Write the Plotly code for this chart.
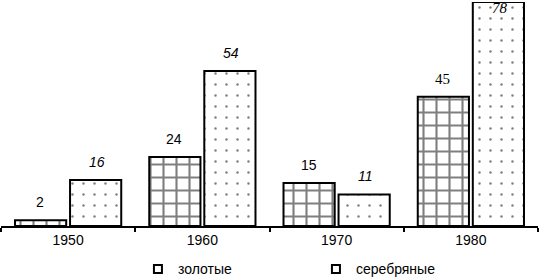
import plotly.graph_objects as go

years = ["1950", "1960", "1970", "1980"]
gold = [2, 24, 15, 45]
silver = [16, 54, 11, 78]
series_names = ["золотые", "серебряные"]

fig = go.Figure()
fig.add_trace(go.Bar(
    x=years, y=gold, name=series_names[0], showlegend=False,
    marker=dict(color="white", line=dict(color="black", width=2),
                pattern=dict(shape="+", fgcolor="black", bgcolor="white", size=13, solidity=0.3)),
))
fig.add_trace(go.Bar(
    x=years, y=silver, name=series_names[1], showlegend=False,
    marker=dict(color="white", line=dict(color="black", width=2),
                pattern=dict(shape=".", fgcolor="black", bgcolor="white", size=11, solidity=0.04)),
))
# legend entries (hollow squares as in the reference)
for nm in series_names:
    fig.add_trace(go.Scatter(
        x=[None], y=[None], mode="markers", name=nm,
        marker=dict(symbol="square", size=8, color="white", line=dict(color="black", width=2)),
    ))

# value labels (x given as category index)
for i, yr in enumerate(years):
    last = (i == len(years) - 1)
    fam = "Liberation Serif" if last else "Liberation Sans"
    fsz = 15 if last else 14
    fig.add_annotation(x=i, y=gold[i], xref="x", yref="y", text=str(gold[i]), showarrow=False,
                       xshift=-28, yshift=18, font=dict(family=fam, size=fsz, color="black"))
    fig.add_annotation(x=i, y=silver[i], xref="x", yref="y", text="<i>%d</i>" % silver[i],
                       showarrow=False, xshift=29, yshift=(-6 if last else 18),
                       font=dict(family=fam, size=fsz, color="black"))

fig.update_layout(
    width=540, height=279,
    margin=dict(l=1, r=2, t=2, b=53, autoexpand=False),
    paper_bgcolor="white", plot_bgcolor="white",
    barmode="group", bargap=0.18, bargroupgap=0.07,
    font=dict(family="Liberation Sans", size=14, color="black"),
    showlegend=True,
    legend=dict(orientation="h", x=0.255, y=-0.122, xanchor="left", yanchor="top",
                entrywidth=133, entrywidthmode="pixels", itemwidth=30,
                font=dict(size=14), bgcolor="rgba(0,0,0,0)"),
    xaxis=dict(type="category", range=[-0.5, 3.5], autorange=False, automargin=False,
               showline=True, linecolor="black", linewidth=2, ticks="outside",
               tickson="boundaries", ticklen=4, tickcolor="black", tickwidth=2,
               tickfont=dict(size=14), showgrid=False, fixedrange=True),
    yaxis=dict(range=[0, 78], autorange=False, visible=False, showgrid=False,
               automargin=False, fixedrange=True),
)

fig.write_html("out.html", config={"displayModeBar": False},
               post_script="document.body.style.margin='0';")
